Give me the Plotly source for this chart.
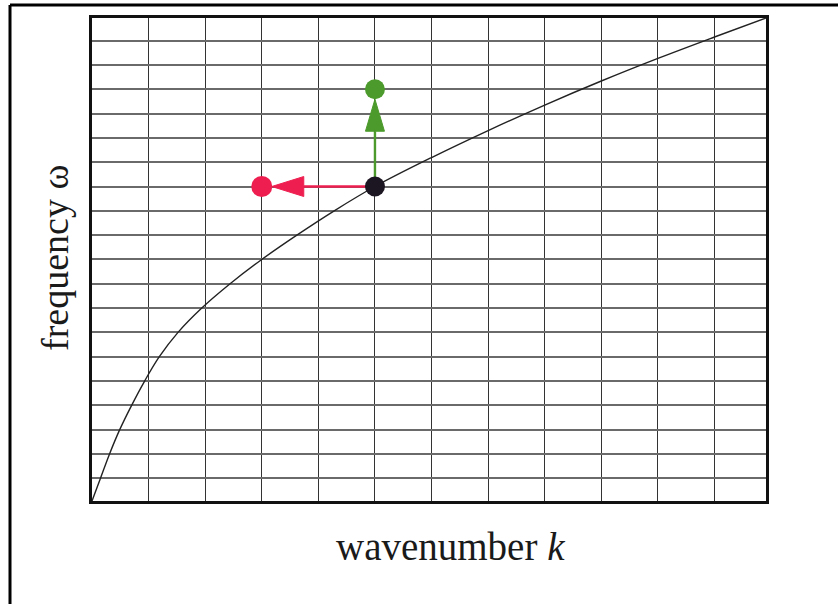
import plotly.graph_objects as go

# Dispersion curve omega(k), sampled along the curve (grid units)
k_curve = [0.0, 0.15, 0.31, 0.49, 0.70, 0.93, 1.19, 1.52, 1.94, 2.44,
           3.0, 3.62, 4.28, 5.0, 6.0, 7.0, 8.0, 9.0, 10.0, 11.0, 11.91]
w_curve = [0.066, 1.0, 2.0, 3.0, 4.0, 5.0, 6.0, 7.0, 8.0, 9.0,
           10.0, 11.0, 12.0, 13.0, 14.19, 15.3, 16.35, 17.34, 18.27, 19.15, 19.93]

# Operating point on the curve and the two displaced points
point_k, point_w = 5, 13
left_k, left_w = 3, 13
up_k, up_w = 5, 17

x_range = [0, 11.91]
y_range = [0.066, 19.93]

RED = "#EE1F50"
GREEN = "#4B9A2B"
DARK = "#1C1522"

# page geometry
W, H = 838, 604
ML, MR, MT, MB = 92, 72, 18, 103
plot_w = W - ML - MR
plot_h = H - MT - MB
px_x = plot_w / (x_range[1] - x_range[0])   # pixels per k unit
px_y = plot_h / (y_range[1] - y_range[0])   # pixels per omega unit

dot_r = 10      # dot radius, px
head_len = 32   # arrowhead length, px
head_half = 10  # arrowhead half width, px

fig = go.Figure()

fig.add_trace(go.Scatter(x=k_curve, y=w_curve, mode="lines",
                         line=dict(color="#222222", width=1.4, shape="spline", smoothing=1.0),
                         hoverinfo="skip"))

# horizontal arrow (towards smaller k)
tip_x = left_k + dot_r / px_x
base_x = tip_x + head_len / px_x
fig.add_trace(go.Scatter(x=[point_k, base_x], y=[point_w, left_w], mode="lines",
                         line=dict(color=RED, width=2.6), hoverinfo="skip"))
fig.add_trace(go.Scatter(
    x=[tip_x, base_x, base_x, tip_x],
    y=[left_w, left_w + head_half / px_y, left_w - head_half / px_y, left_w],
    mode="lines", fill="toself", fillcolor=RED, line=dict(color=RED, width=1),
    hoverinfo="skip"))

# vertical arrow (towards larger omega)
tip_y = up_w - dot_r / px_y
base_y = tip_y - head_len / px_y
fig.add_trace(go.Scatter(x=[point_k, up_k], y=[point_w, base_y], mode="lines",
                         line=dict(color=GREEN, width=2.4), hoverinfo="skip"))
fig.add_trace(go.Scatter(
    x=[up_k, up_k - head_half * 0.95 / px_x, up_k + head_half * 0.95 / px_x, up_k],
    y=[tip_y, base_y, base_y, tip_y],
    mode="lines", fill="toself", fillcolor=GREEN, line=dict(color=GREEN, width=1),
    hoverinfo="skip"))

# dots
fig.add_trace(go.Scatter(x=[left_k], y=[left_w], mode="markers",
                         marker=dict(size=2 * dot_r + 1, color=RED, line=dict(width=0)),
                         hoverinfo="skip"))
fig.add_trace(go.Scatter(x=[up_k], y=[up_w], mode="markers",
                         marker=dict(size=2 * dot_r, color=GREEN, line=dict(width=0)),
                         hoverinfo="skip"))
fig.add_trace(go.Scatter(x=[point_k], y=[point_w], mode="markers",
                         marker=dict(size=2 * dot_r, color=DARK, line=dict(width=0)),
                         hoverinfo="skip"))

axis_common = dict(showline=True, linewidth=3, linecolor="#111111", mirror=True,
                   showticklabels=False, ticks="", zeroline=False, fixedrange=True)

fig.update_xaxes(range=x_range, dtick=1, tick0=0, showgrid=True,
                 gridcolor="#333333", gridwidth=1.2, **axis_common)
fig.update_yaxes(range=y_range, dtick=1, tick0=0, showgrid=True,
                 gridcolor="#6a6a6a", gridwidth=1.8, **axis_common)

serif = "Liberation Serif, Times New Roman, serif"
fig.add_annotation(text="wavenumber <i>k</i>", xref="paper", yref="paper",
                   x=(450 - ML) / plot_w, y=-(546 - (H - MB)) / plot_h,
                   xanchor="center", yanchor="middle", showarrow=False,
                   font=dict(family=serif, size=39, color="#1a1a1a"))
fig.add_annotation(text="frequency ω", xref="paper", yref="paper",
                   x=(55 - ML) / plot_w, y=(H - MB - 258) / plot_h,
                   xanchor="center", yanchor="middle", showarrow=False, textangle=-90,
                   font=dict(family=serif, size=38, color="#1a1a1a"))

# page frame: top and left rules
fig.add_shape(type="line", xref="paper", yref="paper",
              x0=(10 - ML) / plot_w, x1=(W - ML) / plot_w,
              y0=(H - MB - 5) / plot_h, y1=(H - MB - 5) / plot_h,
              line=dict(color="black", width=3))
fig.add_shape(type="line", xref="paper", yref="paper",
              x0=(10 - ML) / plot_w, x1=(10 - ML) / plot_w,
              y0=(H - MB - 5) / plot_h, y1=-(MB + 2) / plot_h,
              line=dict(color="black", width=3))

fig.update_layout(width=W, height=H, showlegend=False,
                  margin=dict(l=ML, r=MR, t=MT, b=MB),
                  paper_bgcolor="white", plot_bgcolor="white")

fig.write_html("out.html", config={"displayModeBar": False})
